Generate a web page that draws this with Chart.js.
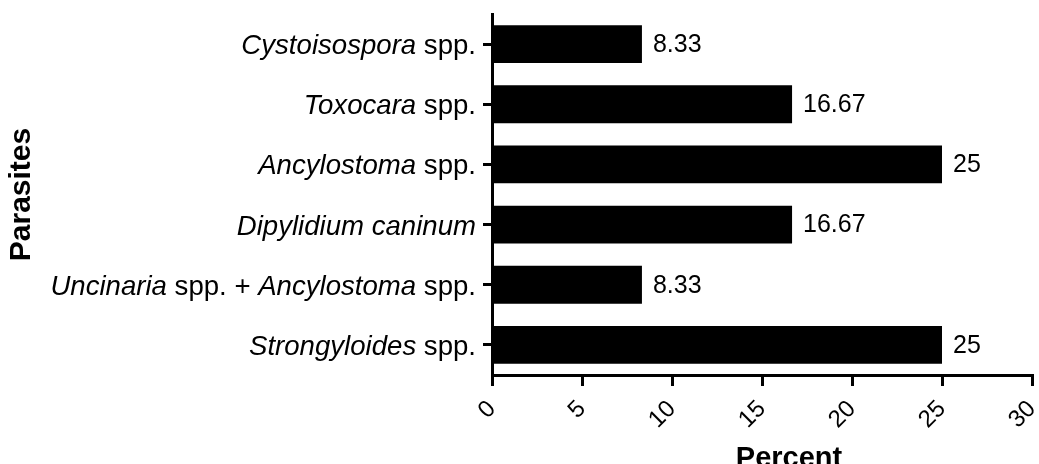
<!DOCTYPE html>
<html>
<head>
<meta charset="utf-8">
<script src="https://cdn.jsdelivr.net/npm/chart.js@4.4.1/dist/chart.umd.min.js"></script>
<style>
  body { margin: 0; background: #fff; }
  canvas { display: block; }
</style>
</head>
<body>
<canvas id="parasiteChart" width="1039" height="464"></canvas>
<script>
// Données du graphique
const parasites = [
    'Cystoisospora spp.',
    'Toxocara spp.',
    'Ancylostoma spp.',
    'Dipylidium caninum',
    'Uncinaria spp. + Ancylostoma spp.',
    'Strongyloides spp.'
];
const percents = [8.33, 16.67, 25, 16.67, 8.33, 25];
const xTicks = [0, 5, 10, 15, 20, 25, 30];

// mots écrits en romain, tout le reste (noms latins) en italique
const plainWords = ['spp.', '+'];

const FONT = '"Liberation Sans", Arial, sans-serif';

// Étiquettes de l'axe Y avec italique partiel + titre de l'axe X
const yLabelsPlugin = {
    id: 'yLabels',
    afterDraw(chart) {
        const ctx = chart.ctx;
        const yScale = chart.scales.y;
        const right = yScale.right - 16;
        ctx.save();
        ctx.fillStyle = '#000';
        ctx.textBaseline = 'alphabetic';
        ctx.textAlign = 'left';
        parasites.forEach((label, i) => {
            const words = label.split(' ');
            const parts = words.map((w, k) => ({
                text: w + (k < words.length - 1 ? ' ' : ''),
                font: (plainWords.includes(w) ? '' : 'italic ') + '27.6px ' + FONT
            }));
            let total = 0;
            parts.forEach(p => { ctx.font = p.font; p.w = ctx.measureText(p.text).width; total += p.w; });
            let x = right - total;
            const y = yScale.getPixelForValue(i) + 10;
            parts.forEach(p => { ctx.font = p.font; ctx.fillText(p.text, x, y); x += p.w; });
        });
        // titre de l'axe X
        ctx.font = 'bold 29px ' + FONT;
        ctx.textAlign = 'center';
        ctx.fillText('Percent', 789, 467);
        ctx.restore();
    }
};

// Valeurs au bout des barres
const valueLabelsPlugin = {
    id: 'valueLabels',
    afterDatasetsDraw(chart) {
        const ctx = chart.ctx;
        const meta = chart.getDatasetMeta(0);
        ctx.save();
        ctx.fillStyle = '#000';
        ctx.font = '25px ' + FONT;
        ctx.textAlign = 'left';
        ctx.textBaseline = 'middle';
        meta.data.forEach((bar, i) => {
            ctx.fillText(String(percents[i]), bar.x + 11, bar.y + 1);
        });
        ctx.restore();
    }
};

const ctx = document.getElementById('parasiteChart').getContext('2d');
new Chart(ctx, {
    type: 'bar',
    data: {
        labels: parasites,
        datasets: [{
            data: percents,
            backgroundColor: '#000',
            borderWidth: 0,
            categoryPercentage: 1,
            barPercentage: 0.63
        }]
    },
    options: {
        indexAxis: 'y',
        responsive: false,
        animation: false,
        layout: { padding: { left: 0, top: 14, right: 7, bottom: 0 } },
        plugins: {
            legend: { display: false },
            tooltip: { enabled: false }
        },
        scales: {
            y: {
                afterFit(scale) { scale.width = 492; },
                grid: {
                    offset: false,
                    drawOnChartArea: false,
                    drawTicks: true,
                    tickLength: 9,
                    color: '#000',
                    lineWidth: 3
                },
                border: { display: true, color: '#000', width: 3 },
                ticks: { display: false },
                title: {
                    display: true,
                    text: 'Parasites',
                    color: '#000',
                    font: { family: FONT, size: 30, weight: 'bold' },
                    padding: { top: 4, bottom: 0 }
                }
            },
            x: {
                min: 0,
                max: 30,
                afterFit(scale) {
                    scale.height = 89;
                    scale.paddingLeft = 0;
                    scale.paddingRight = 0;
                },
                afterBuildTicks(scale) { scale.ticks = xTicks.map(v => ({ value: v })); },
                grid: {
                    drawOnChartArea: false,
                    drawTicks: true,
                    tickLength: 11,
                    color: '#000',
                    lineWidth: 3
                },
                border: { display: true, color: '#000', width: 3 },
                ticks: {
                    color: '#000',
                    font: { family: FONT, size: 24 },
                    minRotation: 45,
                    maxRotation: 45,
                    padding: 9
                }
            }
        }
    },
    plugins: [yLabelsPlugin, valueLabelsPlugin]
});
</script>
</body>
</html>
